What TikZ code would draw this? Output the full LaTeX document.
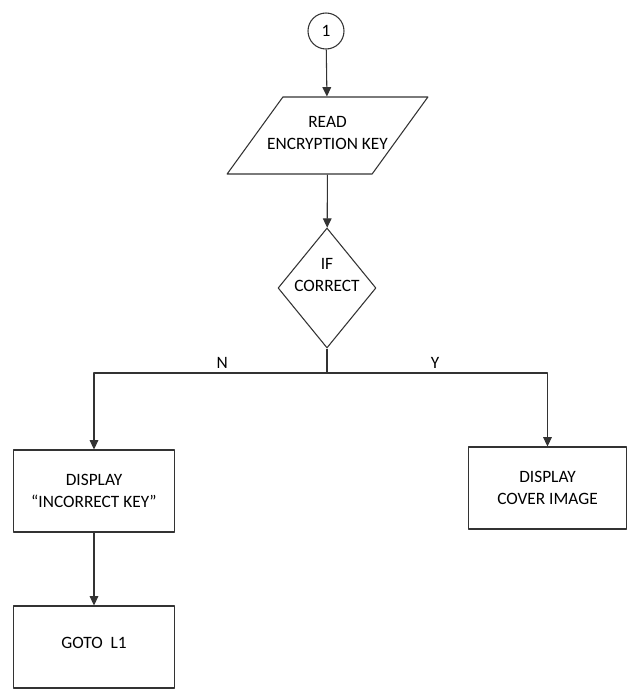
\documentclass[tikz,border=0pt]{standalone}
\usepackage{fontspec}
\setmainfont{Carlito}
\usetikzlibrary{shapes.geometric,arrows.meta}
\begin{document}
\begin{tikzpicture}[x=0.75pt,y=-0.75pt,line join=round,>={Triangle[length=7pt,width=6.5pt]},
	every node/.style={font=\fontsize{13}{16.5}\selectfont,align=center},
	shapeline/.style={draw=black!80,line width=0.8pt},
	box/.style={shapeline,minimum width=120.75pt,minimum height=61.5pt,inner sep=0pt},
	flow/.style={->,draw=black!80,line width=0.8pt}]
	\useasboundingbox (0,0) rectangle (630,689);
	% connector and input
	\node[circle,shapeline,minimum size=27pt,inner sep=0pt] (start) at (326,31) {1};
	\node[trapezium,shapeline,trapezium left angle=58,trapezium right angle=122,trapezium stretches=true,
		minimum width=150.75pt,minimum height=57.75pt,
		label={[yshift=2pt]center:READ\\ENCRYPTION KEY}] (read) at (327.5,135.5) {};
	% decision
	\node[diamond,shapeline,minimum width=73.5pt,minimum height=90pt,inner sep=0pt,
		label={[yshift=9.75pt]center:IF\\CORRECT}] (check) at (327,288) {};
	\coordinate (split) at (327,373);
	% outputs
	\node[box] (wrong) at (94,491) {DISPLAY\\“INCORRECT KEY”};
	\node[box,minimum width=118.5pt] (cover) at (547.5,488) {DISPLAY\\COVER IMAGE};
	\node[box,label={[yshift=3pt]center:GOTO\ \ L1}] (goto) at (94,647) {};
	% arrows
	\draw[flow] (start) -- (read);
	\draw[flow] (read) -- (check);
	\draw[shapeline] (check.south) -- (split);
	\draw[flow] (split) -| node[pos=0.225,above] {N} (wrong.north);
	\draw[flow] (split) -| node[pos=0.245,above] {Y} (cover.north);
	\draw[flow] (wrong) -- (goto);
\end{tikzpicture}
\end{document}
